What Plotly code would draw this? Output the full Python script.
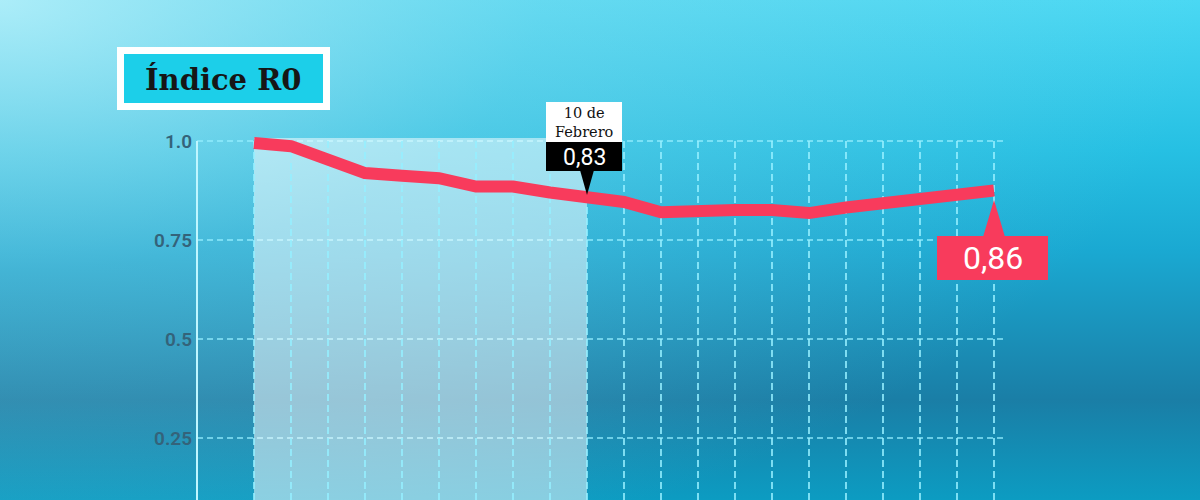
import plotly.graph_objects as go
import urllib.parse

# ---------------- data ----------------
dates = ["1 feb", "2 feb", "3 feb", "4 feb", "5 feb", "6 feb", "7 feb", "8 feb",
         "9 feb", "10 feb", "11 feb", "12 feb", "13 feb", "14 feb", "15 feb",
         "16 feb", "17 feb", "18 feb", "19 feb", "20 feb", "21 feb"]
r0_values = [0.995, 0.987, 0.953, 0.919, 0.912, 0.906, 0.885, 0.885, 0.870,
             0.855, 0.846, 0.820, 0.826, 0.826, 0.826, 0.818, 0.832, 0.843,
             0.860, 0.868, 0.875]
y_ticks = [0.25, 0.5, 0.75, 1.0]
y_tick_labels = ["0.25", "0.5", "0.75", "1.0"]
title_text = "Índice R0"
highlight_idx = 9
highlight_date_label = "10 de<br>Febrero"
highlight_value_label = "0,83"
last_value_label = "0,86"

x_idx = list(range(len(dates)))

# ---------------- geometry (pixels) ----------------
W, H = 1200, 500
L_PX, R_PX, T_PX, B_PX = 197, 1005, 129, 500
X0_PX, X_PPU = 254, 37.0      # pixel of index 0, pixels per index
Y1_PX, Y_PPU = 141, 396.0     # pixel of value 1.0, pixels per unit


def X(px):
    return (px - X0_PX) / X_PPU


def Y(py):
    return 1.0 - (py - Y1_PX) / Y_PPU


def paper_x(px):
    return (px - L_PX) / (R_PX - L_PX)


def paper_y(py):
    return (B_PX - py) / (B_PX - T_PX)


def idx_px(i):
    return X0_PX + i * X_PPU


x_range = [X(L_PX), X(R_PX)]
y_range = [Y(B_PX), Y(T_PX)]

RED = "#f83b5c"
GRID = "rgba(150,240,255,0.9)"

# ---------------- background (svg gradient) ----------------
svg = f"""<svg xmlns='http://www.w3.org/2000/svg' width='{W}' height='{H}' viewBox='0 0 {W} {H}' preserveAspectRatio='none'>
<defs>
<linearGradient id='v' x1='0' y1='0' x2='0' y2='1'>
<stop offset='0' stop-color='#4ad8f3'/>
<stop offset='0.3' stop-color='#26c0e3'/>
<stop offset='0.5' stop-color='#1aa9d2'/>
<stop offset='0.8' stop-color='#1a7ea6'/>
<stop offset='1' stop-color='#0c9cc2'/>
</linearGradient>
<radialGradient id='r' cx='0' cy='0' r='1.0' gradientTransform='scale(1,1.2)'>
<stop offset='0' stop-color='#c4f2fa' stop-opacity='0.8'/>
<stop offset='0.45' stop-color='#a4dcea' stop-opacity='0.3'/>
<stop offset='1' stop-color='#9fd2e0' stop-opacity='0'/>
</radialGradient>
</defs>
<rect x='0' y='0' width='{W}' height='{H}' fill='url(#v)'/>
<rect x='0' y='0' width='{W}' height='{H}' fill='url(#r)'/>
</svg>"""
bg_src = "data:image/svg+xml;charset=utf-8," + urllib.parse.quote(svg)

fig = go.Figure()

fig.add_trace(go.Scatter(
    x=x_idx, y=r0_values, mode="lines",
    line=dict(color=RED, width=12),
    hoverinfo="skip", showlegend=False, cliponaxis=False,
))

shapes = []
# highlighted period
shapes.append(dict(type="rect", xref="x", yref="y", layer="below",
                   x0=0, x1=highlight_idx, y0=y_range[0], y1=Y(138),
                   fillcolor="rgba(255,255,255,0.5)", line=dict(width=0)))
# vertical dashed grid lines
for i in x_idx:
    shapes.append(dict(type="line", xref="x", yref="y", layer="below",
                       x0=i, x1=i, y0=y_range[0], y1=1.0,
                       line=dict(color=GRID, width=1.8, dash="7px,4px")))
# horizontal dashed grid lines
for v in y_ticks:
    shapes.append(dict(type="line", xref="paper", yref="y", layer="below",
                       x0=0, x1=1, y0=v, y1=v,
                       line=dict(color=GRID, width=1.3, dash="6px,4px")))
# solid axis line
shapes.append(dict(type="line", xref="paper", yref="y", layer="below",
                   x0=0, x1=0, y0=y_range[0], y1=1.0,
                   line=dict(color="#bff6ff", width=2)))

# title box
shapes.append(dict(type="rect", xref="paper", yref="paper",
                   x0=paper_x(117), x1=paper_x(330), y0=paper_y(110), y1=paper_y(47),
                   fillcolor="white", line=dict(width=0)))
shapes.append(dict(type="rect", xref="paper", yref="paper",
                   x0=paper_x(124), x1=paper_x(323), y0=paper_y(103), y1=paper_y(54),
                   fillcolor="#1ccfe9", line=dict(width=0)))

# highlight callout
hp = idx_px(highlight_idx)
shapes.append(dict(type="rect", xref="paper", yref="paper",
                   x0=paper_x(hp - 41), x1=paper_x(hp + 35), y0=paper_y(142), y1=paper_y(102),
                   fillcolor="white", line=dict(width=0)))
shapes.append(dict(type="rect", xref="paper", yref="paper",
                   x0=paper_x(hp - 41), x1=paper_x(hp + 35), y0=paper_y(171), y1=paper_y(142),
                   fillcolor="black", line=dict(width=0)))
shapes.append(dict(type="path", xref="paper", yref="paper",
                   path=(f"M {paper_x(hp - 7)},{paper_y(170)} L {paper_x(hp + 7)},{paper_y(170)} "
                         f"L {paper_x(hp)},{paper_y(195)} Z"),
                   fillcolor="black", line=dict(width=0)))

# last value callout
lp = idx_px(x_idx[-1])
shapes.append(dict(type="rect", xref="paper", yref="paper",
                   x0=paper_x(lp - 57), x1=paper_x(lp + 54), y0=paper_y(280), y1=paper_y(236),
                   fillcolor=RED, line=dict(width=0)))
shapes.append(dict(type="path", xref="paper", yref="paper",
                   path=(f"M {paper_x(lp - 11)},{paper_y(237)} L {paper_x(lp + 11)},{paper_y(237)} "
                         f"L {paper_x(lp)},{paper_y(200)} Z"),
                   fillcolor=RED, line=dict(width=0)))

annotations = [
    dict(text=f"<b>{title_text}</b>", xref="paper", yref="paper",
         x=paper_x(223), y=paper_y(79), xanchor="center", yanchor="middle",
         showarrow=False, font=dict(family="DejaVu Serif", size=29, color="#161616")),
    dict(text=highlight_date_label, xref="paper", yref="paper",
         x=paper_x(hp - 3), y=paper_y(122), xanchor="center", yanchor="middle",
         showarrow=False, font=dict(family="DejaVu Serif", size=14.5, color="#111111")),
    dict(text=highlight_value_label, xref="paper", yref="paper",
         x=paper_x(hp - 3), y=paper_y(157), xanchor="center", yanchor="middle",
         showarrow=False, font=dict(family="Roboto", size=23, color="white")),
    dict(text=last_value_label, xref="paper", yref="paper",
         x=paper_x(lp - 1.5), y=paper_y(258), xanchor="center", yanchor="middle",
         showarrow=False, font=dict(family="Roboto", size=32, color="white")),
]

fig.update_layout(
    width=W, height=H,
    margin=dict(l=L_PX, r=W - R_PX, t=T_PX, b=H - B_PX, pad=0),
    paper_bgcolor="#1aa8d0", plot_bgcolor="rgba(0,0,0,0)",
    showlegend=False,
    xaxis=dict(range=x_range, showgrid=False, zeroline=False, showline=False,
               showticklabels=False, ticks=""),
    yaxis=dict(range=y_range, tickvals=y_ticks, ticktext=y_tick_labels,
               showgrid=False, zeroline=False, showline=False, ticks="",
               tickfont=dict(family="Roboto", size=19, color="#34637a", weight=600),
               ticklabelstandoff=4),
    shapes=shapes,
    annotations=annotations,
    images=[dict(source=bg_src, xref="paper", yref="paper",
                 x=paper_x(0), y=paper_y(0), sizex=W / (R_PX - L_PX),
                 sizey=H / (B_PX - T_PX), xanchor="left", yanchor="top",
                 sizing="stretch", layer="below")],
)

fig.write_html("out.html", config={"displayModeBar": False},
               post_script="document.body.style.margin='0';document.body.style.overflow='hidden';")
